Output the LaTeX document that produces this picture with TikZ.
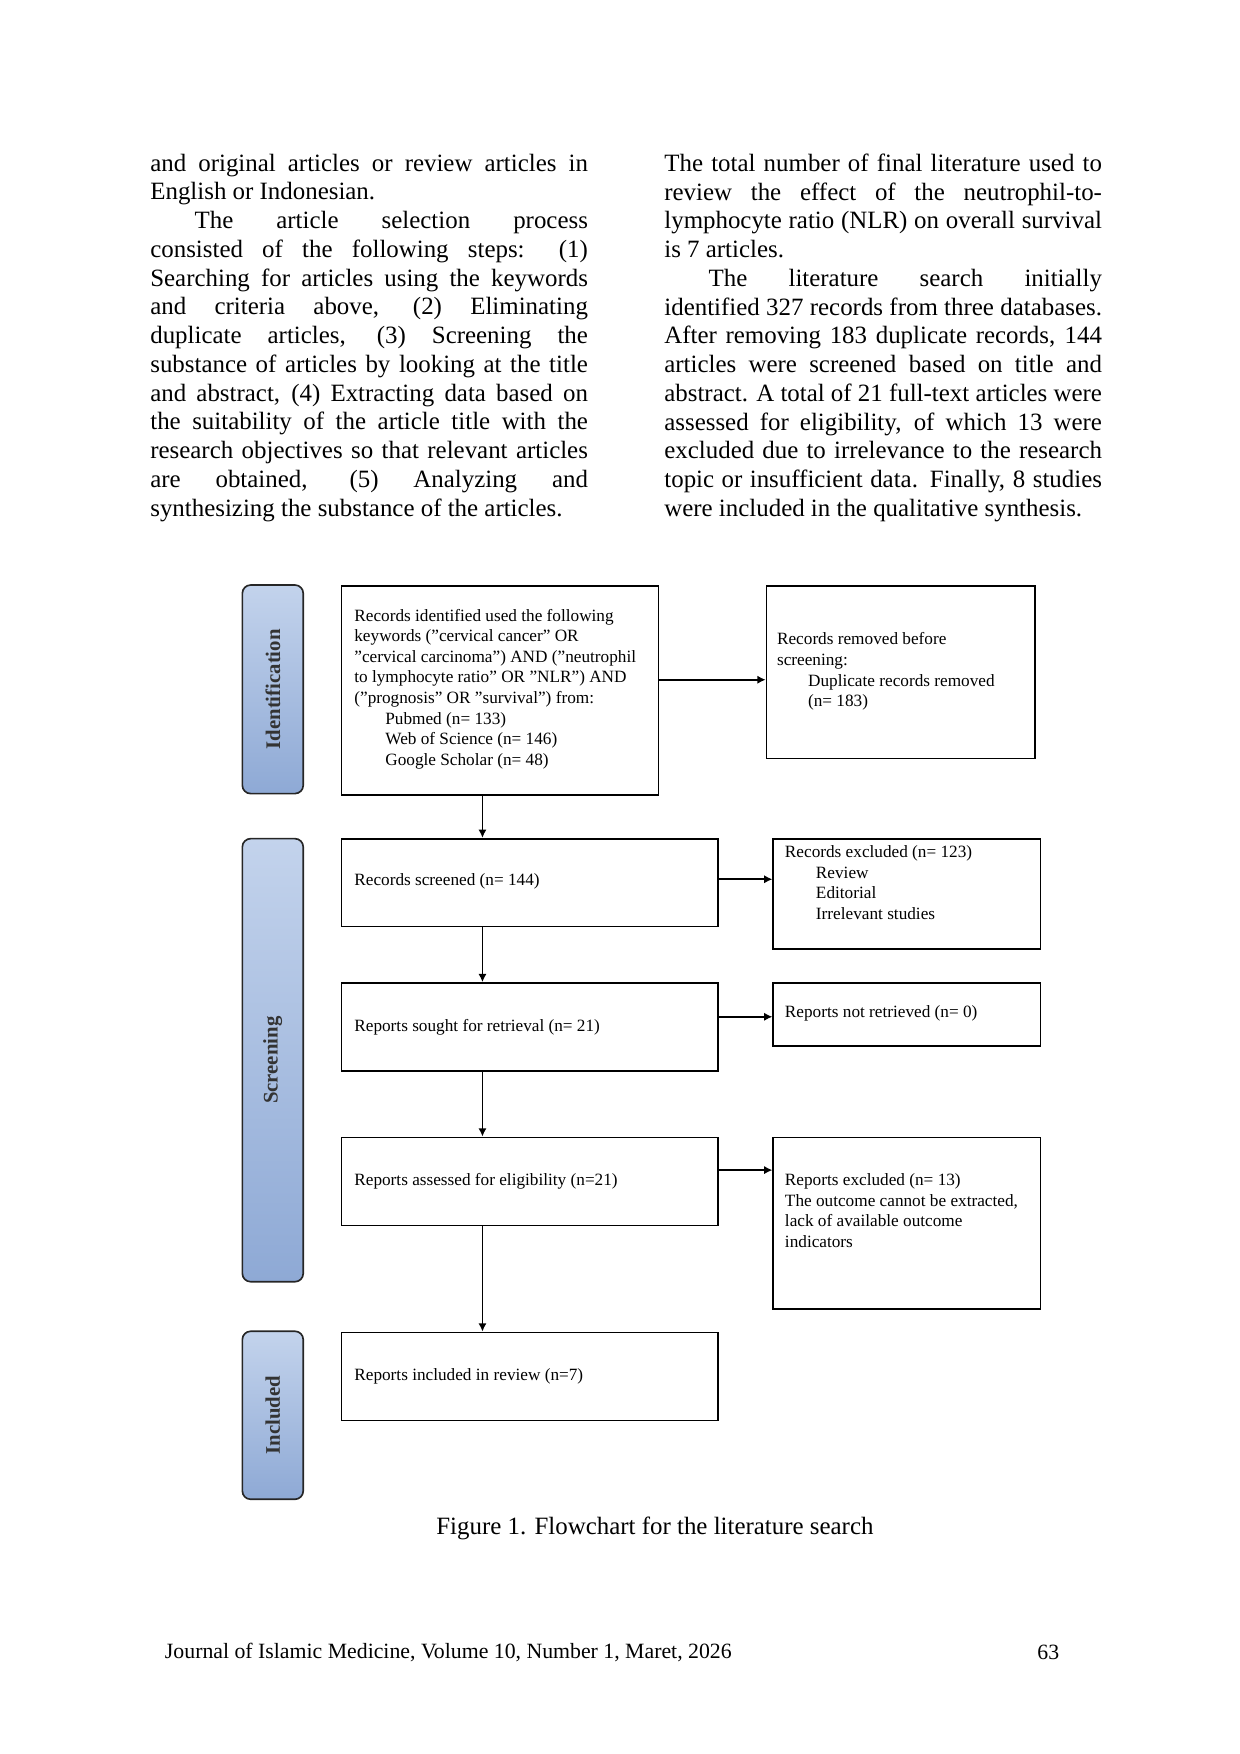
\documentclass[tikz,border=0pt]{standalone}
\usepackage{fontspec}
\setmainfont{Liberation Serif}
\usetikzlibrary{arrows.meta}
\usetikzlibrary{calc}
\definecolor{stageTop}{HTML}{C3D3EC}
\definecolor{stageBot}{HTML}{8EA9D5}

\begin{document}
\begin{tikzpicture}[x=0.019091cm, y=-0.019091cm,
    box/.style={rectangle, draw, thick, inner sep=0pt},
    stage/.style={rectangle, draw=black!85, thick, rounded corners=4pt, top color=stageTop, bottom color=stageBot, minimum width=1.031cm, inner sep=0pt},
    stagetxt/.style={rotate=90, font=\fontsize{10}{12}\selectfont\bfseries\color{black!80}},
    txt/.style={align=left, inner sep=0pt, font=\fontsize{8.3}{9.9}\selectfont},
    body/.style={anchor=north west, inner sep=0pt, text width=7.41cm, align=justify, font=\fontsize{12}{13.86}\selectfont},
    arr/.style={thick, -{Latex[length=4pt, width=4pt]}}]
      \useasboundingbox (0,0) rectangle (1100,1556);

      % columns of running text
      \node[body] (left) at (133,136) {and original articles or review articles in\linebreak
        English or Indonesian.\\
        \hspace*{0.75cm}The article selection process\linebreak
        consisted of the following steps: (1)\linebreak
        Searching for articles using the keywords\linebreak
        and criteria above, (2) Eliminating\linebreak
        duplicate articles, (3) Screening the\linebreak
        substance of articles by looking at the title\linebreak
        and abstract, (4) Extracting data based on\linebreak
        the suitability of the article title with the\linebreak
        research objectives so that relevant articles\linebreak
        are obtained, (5) Analyzing and\linebreak
        synthesizing the substance of the articles.};
      \node[body] (right) at (589,136) {The total number of final literature used to\linebreak
        review the effect of the neutrophil-to-\linebreak
        lymphocyte ratio (NLR) on overall survival\linebreak
        is 7 articles.\\
        \hspace*{0.75cm}The literature search initially\linebreak
        identified 327 records from three databases.\linebreak
        After removing 183 duplicate records, 144\linebreak
        articles were screened based on title and\linebreak
        abstract. A total of 21 full-text articles were\linebreak
        assessed for eligibility, of which 13 were\linebreak
        excluded due to irrelevance to the research\linebreak
        topic or insufficient data. Finally, 8 studies\linebreak
        were included in the qualitative synthesis.};

      % stage labels
      \node[stage, minimum height=3.532cm] (ident) at (242,611.5) {};
      \node[stagetxt] at (ident) {Identification};
      \node[stage, minimum height=7.503cm] (screen) at (242,940.5) {};
      \node[stagetxt] at (screen) {Screening};
      \node[stage, minimum height=2.845cm] (incl) at (242,1255.5) {};
      \node[stagetxt] at (incl) {Included};

      % boxes
      \node[box, minimum width=5.365cm, minimum height=3.532cm] (A) at (443.5,612.5) {};
      \node[box, minimum width=4.544cm, minimum height=2.921cm] (B) at (799,596.5) {};
      \node[box, minimum width=6.376cm, minimum height=1.489cm] (C) at (470,783) {};
      \node[box, minimum width=4.525cm, minimum height=1.871cm] (D) at (804.5,793) {};
      \node[box, minimum width=6.376cm, minimum height=1.489cm] (E) at (470,911) {};
      \node[box, minimum width=4.525cm, minimum height=1.069cm] (F) at (804.5,900) {};
      \node[box, minimum width=6.376cm, minimum height=1.489cm] (G) at (470,1048) {};
      \node[box, minimum width=4.525cm, minimum height=2.902cm] (H) at (804.5,1085) {};
      \node[box, minimum width=6.376cm, minimum height=1.489cm] (I) at (470,1221) {};

      % box texts
      \node[txt, anchor=north west] (tA) at (314,540) {Records identified used the following\\
        keywords ("cervical cancer" OR\\
        "cervical carcinoma") AND ("neutrophil\\
        to lymphocyte ratio" OR "NLR") AND\\
        ("prognosis" OR "survival") from:\\
        \hspace*{1.8em}Pubmed (n= 133)\\
        \hspace*{1.8em}Web of Science (n= 146)\\
        \hspace*{1.8em}Google Scholar (n= 48)};
      \node[txt, anchor=north west] (tB) at (689,561) {Records removed before\\
        screening:\\
        \hspace*{1.8em}Duplicate records removed\\
        \hspace*{1.8em}(n= 183)};
      \node[txt, anchor=west] (tC) at (314,782) {Records screened (n= 144)};
      \node[txt, anchor=north west] (tD) at (696,750) {Records excluded (n= 123)\\
        \hspace*{1.8em}Review\\
        \hspace*{1.8em}Editorial\\
        \hspace*{1.8em}Irrelevant studies};
      \node[txt, anchor=west] (tE) at (314,911) {Reports sought for retrieval (n= 21)};
      \node[txt, anchor=west] (tF) at (696,899) {Reports not retrieved (n= 0)};
      \node[txt, anchor=west] (tG) at (314,1048) {Reports assessed for eligibility (n=21)};
      \node[txt, anchor=north west] (tH) at (696,1041) {Reports excluded (n= 13)\\
        The outcome cannot be extracted,\\
        lack of available outcome\\
        indicators};
      \node[txt, anchor=west] (tI) at (314,1221) {Reports included in review (n=7)};

      % connectors
      \coordinate (v1) at (428,705);
      \coordinate (v2) at (428,822);
      \coordinate (v3) at (428,950);
      \coordinate (v4) at (428,1087);
      \draw[arr] (v1) -- (v1 |- C.north);
      \draw[arr] (v2) -- (v2 |- E.north);
      \draw[arr] (v3) -- (v3 |- G.north);
      \draw[arr] (v4) -- (v4 |- I.north);
      \coordinate (h1) at (584,603);
      \coordinate (h2) at (637,780);
      \coordinate (h3) at (637,902);
      \coordinate (h4) at (637,1038);
      \draw[arr] (h1) -- (h1 -| B.west);
      \draw[arr] (h2) -- (h2 -| D.west);
      \draw[arr] (h3) -- (h3 -| F.west);
      \draw[arr] (h4) -- (h4 -| H.west);

      % caption and footer
      \node[font=\fontsize{12}{14}\selectfont] (cap) at (581,1356) {Figure 1. Flowchart for the literature search};
      \node[anchor=west, inner sep=0pt, font=\fontsize{10.5}{12}\selectfont] (foot) at (146,1466) {Journal of Islamic Medicine, Volume 10, Number 1, Maret, 2026};
      \node[inner sep=0pt, font=\fontsize{10.5}{12}\selectfont] (page) at (930,1466) {63};
\end{tikzpicture}
\end{document}
